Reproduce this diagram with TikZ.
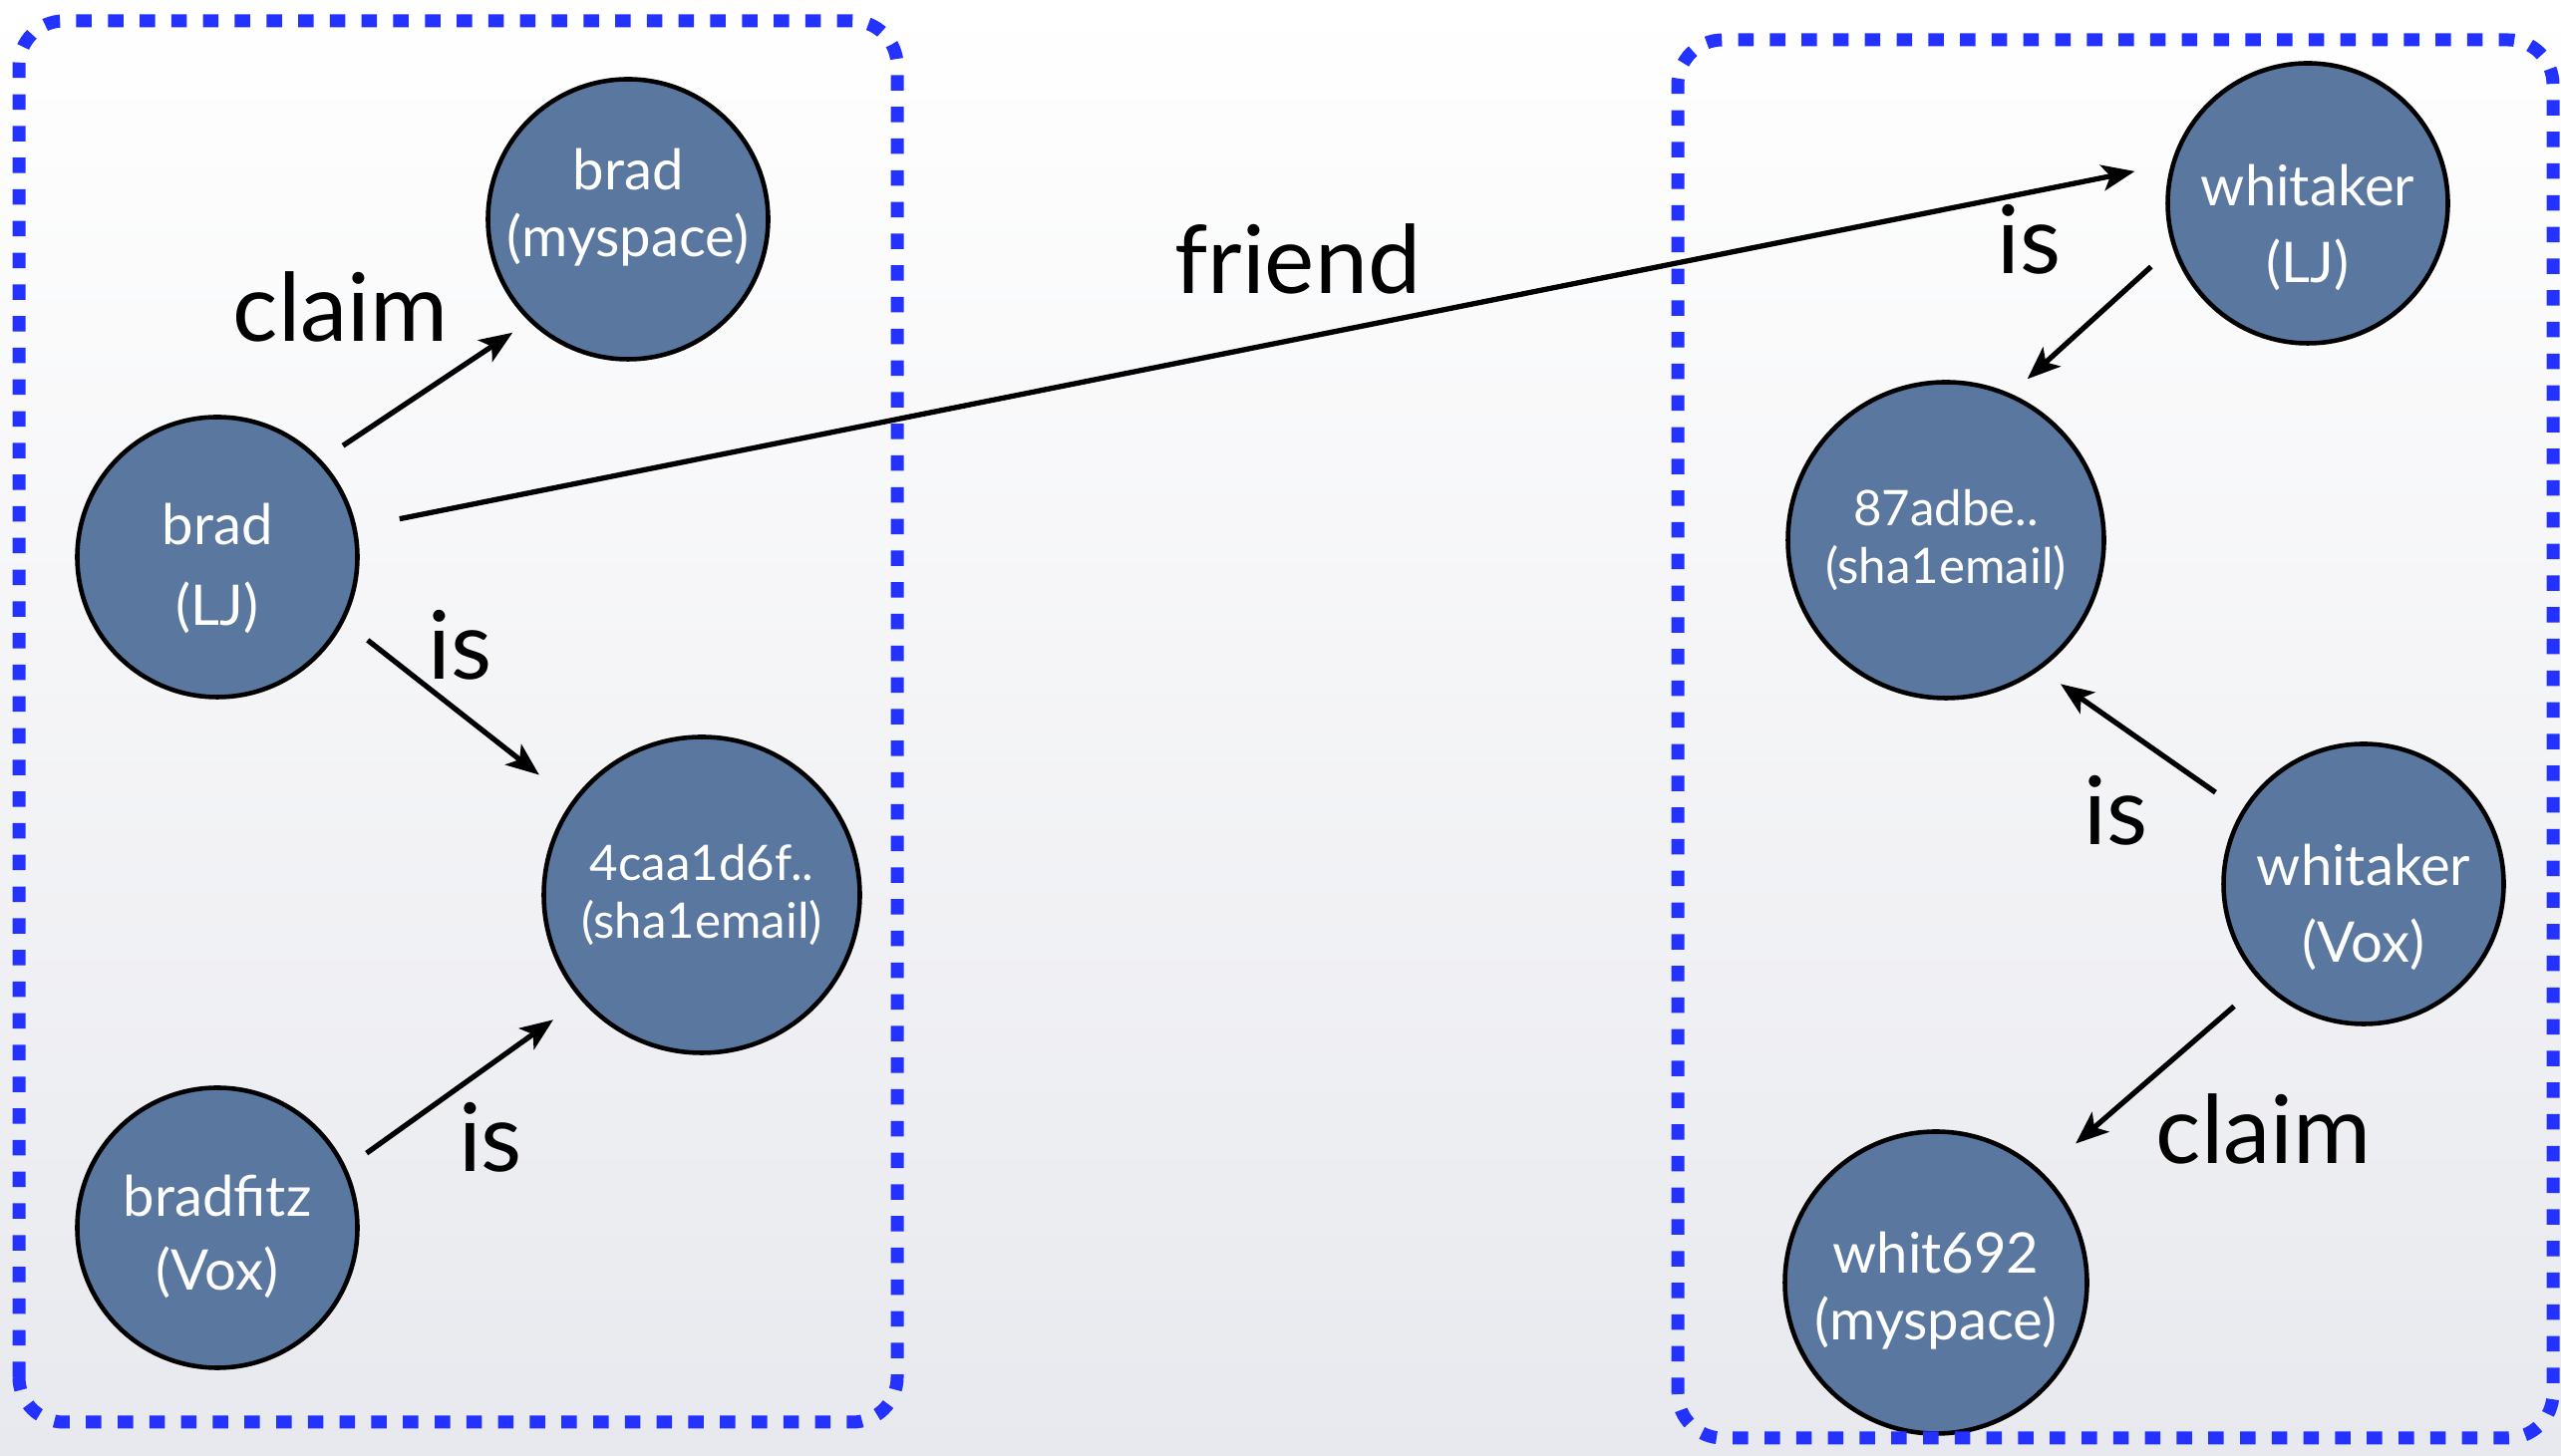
\documentclass[tikz,border=0pt]{standalone}
\usepackage{fontspec}
\setmainfont{Lato}
\usetikzlibrary{arrows.meta,positioning}
\definecolor{nodeblue}{RGB}{90,119,160}
\definecolor{boxblue}{RGB}{35,50,255}
\definecolor{bggray}{RGB}{232,233,238}

\begin{document}
\begin{tikzpicture}[
  acct/.style={draw, circle, line width=1.3pt, fill=nodeblue, text=white, align=center, inner sep=0pt, minimum size=2.81cm, font=\fontsize{16}{19}\selectfont},
  hash/.style={acct, minimum size=3.17cm, font=\fontsize{14}{16.5}\selectfont},
  rel/.style={->, line width=1.5pt, >={Stealth[length=0.33cm, width=0.26cm, inset=0.08cm]}},
  lbl/.style={anchor=base, text=black, font=\fontsize{27}{32}\selectfont},
  idbox/.style={boxblue, line width=0.13cm, dash pattern=on 0.155cm off 0.163cm, rounded corners=0.45cm}
]
\useasboundingbox (0,0) rectangle (25.69,14.61);
\shade[top color=white, middle color=bggray!25, bottom color=bggray] (0,0) rectangle (25.69,14.61);

\node[acct, xshift=6.30cm, yshift=12.41cm] (bradMS) {brad\\(myspace)\rule[-0.33cm]{0pt}{0.33cm}};
\node[acct, xshift=2.18cm, yshift=9.02cm] (bradLJ) {\rule{0pt}{0.64cm}brad\\[4pt](LJ)};
\node[hash, xshift=7.04cm, yshift=5.63cm] (email1) {4caa1d6f..\\(sha1email)};
\node[acct, xshift=2.18cm, yshift=2.29cm] (bradVox) {\rule{0pt}{0.60cm}bradfitz\\[2pt](Vox)};
%============
\node[acct, xshift=23.15cm, yshift=12.57cm] (whitLJ) {\rule{0pt}{0.90cm}whitaker\\[3pt](LJ)};
\node[hash, xshift=19.52cm, yshift=9.19cm] (email2) {87adbe..\\(sha1email)};
\node[acct, xshift=23.71cm, yshift=5.74cm] (whitVox) {\rule{0pt}{0.88cm}whitaker\\[3pt](Vox)};
\node[acct, minimum size=3.03cm, xshift=19.42cm, yshift=1.74cm] (whitMS) {\rule{0pt}{0.58cm}whit692\\(myspace)};
%==========

\draw[idbox] (0.19,0.34) rectangle (9.00,14.40);
\draw[idbox] (16.83,0.18) rectangle (25.61,14.21);

            \draw[rel, shorten <=0.26cm, shorten >=0.20cm] (bradLJ.43) -- node[lbl, xshift=-0.85cm, yshift=0.50cm] {claim} (bradMS.226);
            \draw[rel, shorten <=0.44cm, shorten >=0.37cm] (bradLJ.12) -- node[lbl, xshift=0.34cm, yshift=0.52cm] {friend} (whitLJ.164);
            \draw[rel, shorten <=0.30cm, shorten >=0.42cm] (bradLJ.-27) -- node[lbl, xshift=0.02cm, yshift=0.32cm] {is} (email1.144);
            \draw[rel, shorten <=0.25cm, shorten >=0.34cm] (bradVox.25) -- node[lbl, xshift=0.27cm, yshift=-0.88cm] {is} (email1.221);

            \draw[rel, shorten <=0.29cm, shorten >=0.22cm] (whitLJ.198) -- node[lbl, xshift=-0.63cm, yshift=0.47cm] {is} (email2.66);
            \draw[rel, shorten <=0.32cm, shorten >=0.25cm] (whitVox.149) -- node[lbl, xshift=-0.25cm, yshift=-1.05cm] {is} (email2.-54);
            \draw[rel, shorten <=0.36cm, shorten >=0.44cm] (whitVox.224) -- node[lbl, xshift=1.12cm, yshift=-0.86cm] {claim} (whitMS.46);
\end{tikzpicture}
\end{document}
